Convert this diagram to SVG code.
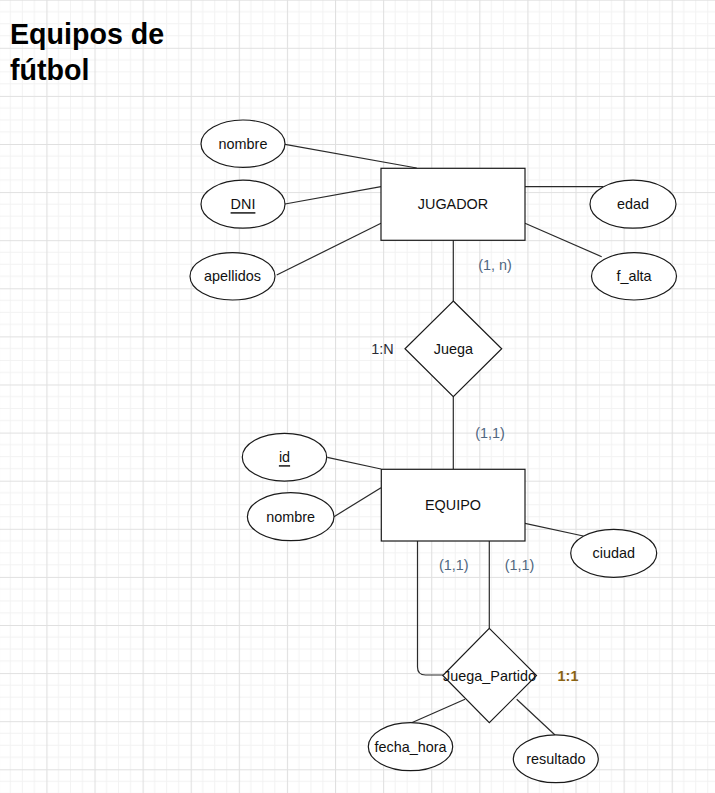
<svg xmlns="http://www.w3.org/2000/svg" width="715" height="793" viewBox="0 0 715 793">
<defs>
<pattern id="grid" patternUnits="userSpaceOnUse" x="46.4" y="-0.3" width="48.1" height="48.1">
<path d="M12.025 0V48.1M24.05 0V48.1M36.075 0V48.1M0 12.025H48.1M0 24.05H48.1M0 36.075H48.1" stroke="#f2f2f2" stroke-width="1" fill="none"/>
<path d="M0.5 0V48.1M0 0.5H48.1" stroke="#e0e0e0" stroke-width="1.2" fill="none"/>
</pattern>
<style>
.shape{fill:#fff;stroke:#1a1a1a;stroke-width:1.2}
.edge{fill:none;stroke:#2a2a2a;stroke-width:1.2}
text{font-family:"Liberation Sans",Arial,sans-serif;font-size:14.4px;fill:#111;text-anchor:middle;dominant-baseline:central}
.card{fill:#4f6680}
.title{font-size:28.6px;font-weight:bold;text-anchor:start;dominant-baseline:auto;fill:#000}
</style>
</defs>
<rect width="715" height="793" fill="#fff"/>
<rect width="715" height="793" fill="url(#grid)"/>

<text class="title" x="10" y="43.5">Equipos de</text>
<text class="title" x="10" y="79.5">fútbol</text>

<g id="connectors">
<path class="edge" d="M285 144.3L416.7 168"/>
<path class="edge" d="M285 204L381 186.7"/>
<path class="edge" d="M276.7 275L381 223.3"/>
<path class="edge" d="M525 186.7L603.3 186.7"/>
<path class="edge" d="M525 223.3L601.7 256.7"/>
<path class="edge" d="M453.3 240V301"/>
<path class="edge" d="M453.3 396.7V469"/>
<path class="edge" d="M327.3 457.3L381 469"/>
<path class="edge" d="M334 516.7L381 487.7"/>
<path class="edge" d="M525 523.3L583.3 536"/>
<path class="edge" d="M417.5 541V667Q417.5 675 425.5 675H443.3"/>
<path class="edge" d="M489.3 541V628.3"/>
<path class="edge" d="M411.7 722.7L465 699.3"/>
<path class="edge" d="M516.7 699.3L555 735"/>
</g>

<g id="jugador">
<rect class="shape" x="381" y="168.3" width="144" height="72"/>
<text x="453" y="204.3">JUGADOR</text>
</g>
<g id="attr-nombre-j">
<ellipse class="shape" cx="243" cy="143.7" rx="42" ry="23.7"/>
<text x="243" y="143.7">nombre</text>
</g>
<g id="attr-dni">
<ellipse class="shape" cx="243" cy="204.2" rx="42" ry="24"/>
<text x="243" y="204.2" text-decoration="underline">DNI</text>
</g>
<g id="attr-apellidos">
<ellipse class="shape" cx="232.5" cy="276.3" rx="42.5" ry="23.7"/>
<text x="232.5" y="276.3">apellidos</text>
</g>
<g id="attr-edad">
<ellipse class="shape" cx="633" cy="204.2" rx="43" ry="24"/>
<text x="633" y="204.2">edad</text>
</g>
<g id="attr-falta">
<ellipse class="shape" cx="634" cy="276.3" rx="42.5" ry="23.7"/>
<text x="634" y="276.3">f_alta</text>
</g>

<g id="juega">
<path class="shape" d="M453.3 301L501.7 348.8L453.3 396.7L405 348.8Z"/>
<text x="453.3" y="348.8">Juega</text>
</g>

<g id="equipo">
<rect class="shape" x="381.3" y="469.3" width="143.7" height="71.7"/>
<text x="453" y="505">EQUIPO</text>
</g>
<g id="attr-id">
<ellipse class="shape" cx="284.5" cy="457.2" rx="42.2" ry="23.9"/>
<text x="284.5" y="457.2" text-decoration="underline">id</text>
</g>
<g id="attr-nombre-e">
<ellipse class="shape" cx="290.7" cy="516.7" rx="43.3" ry="24"/>
<text x="290.7" y="516.7">nombre</text>
</g>
<g id="attr-ciudad">
<ellipse class="shape" cx="613.7" cy="553.3" rx="43" ry="24"/>
<text x="613.7" y="553.3">ciudad</text>
</g>

<g id="juega-partido">
<path class="shape" d="M489.3 628.3L536.5 675.5L489.3 722.7L442.8 675.5Z"/>
<text x="489.5" y="675.5">Juega_Partido</text>
</g>
<g id="attr-fecha-hora">
<ellipse class="shape" cx="410.5" cy="746.7" rx="42.2" ry="24"/>
<text x="410.5" y="746.7">fecha_hora</text>
</g>
<g id="attr-resultado">
<ellipse class="shape" cx="555.8" cy="758.8" rx="42.5" ry="23.9"/>
<text x="555.8" y="758.8">resultado</text>
</g>

<g id="labels">
<text class="card" x="495" y="265">(1, n)</text>
<text x="382.5" y="349" style="fill:#2a2a33">1:N</text>
<text class="card" x="490" y="433.3">(1,1)</text>
<text class="card" x="453.7" y="565">(1,1)</text>
<text class="card" x="519.5" y="565">(1,1)</text>
<text x="568" y="675.5" style="fill:#8a6414;font-weight:bold">1:1</text>
</g>
</svg>
